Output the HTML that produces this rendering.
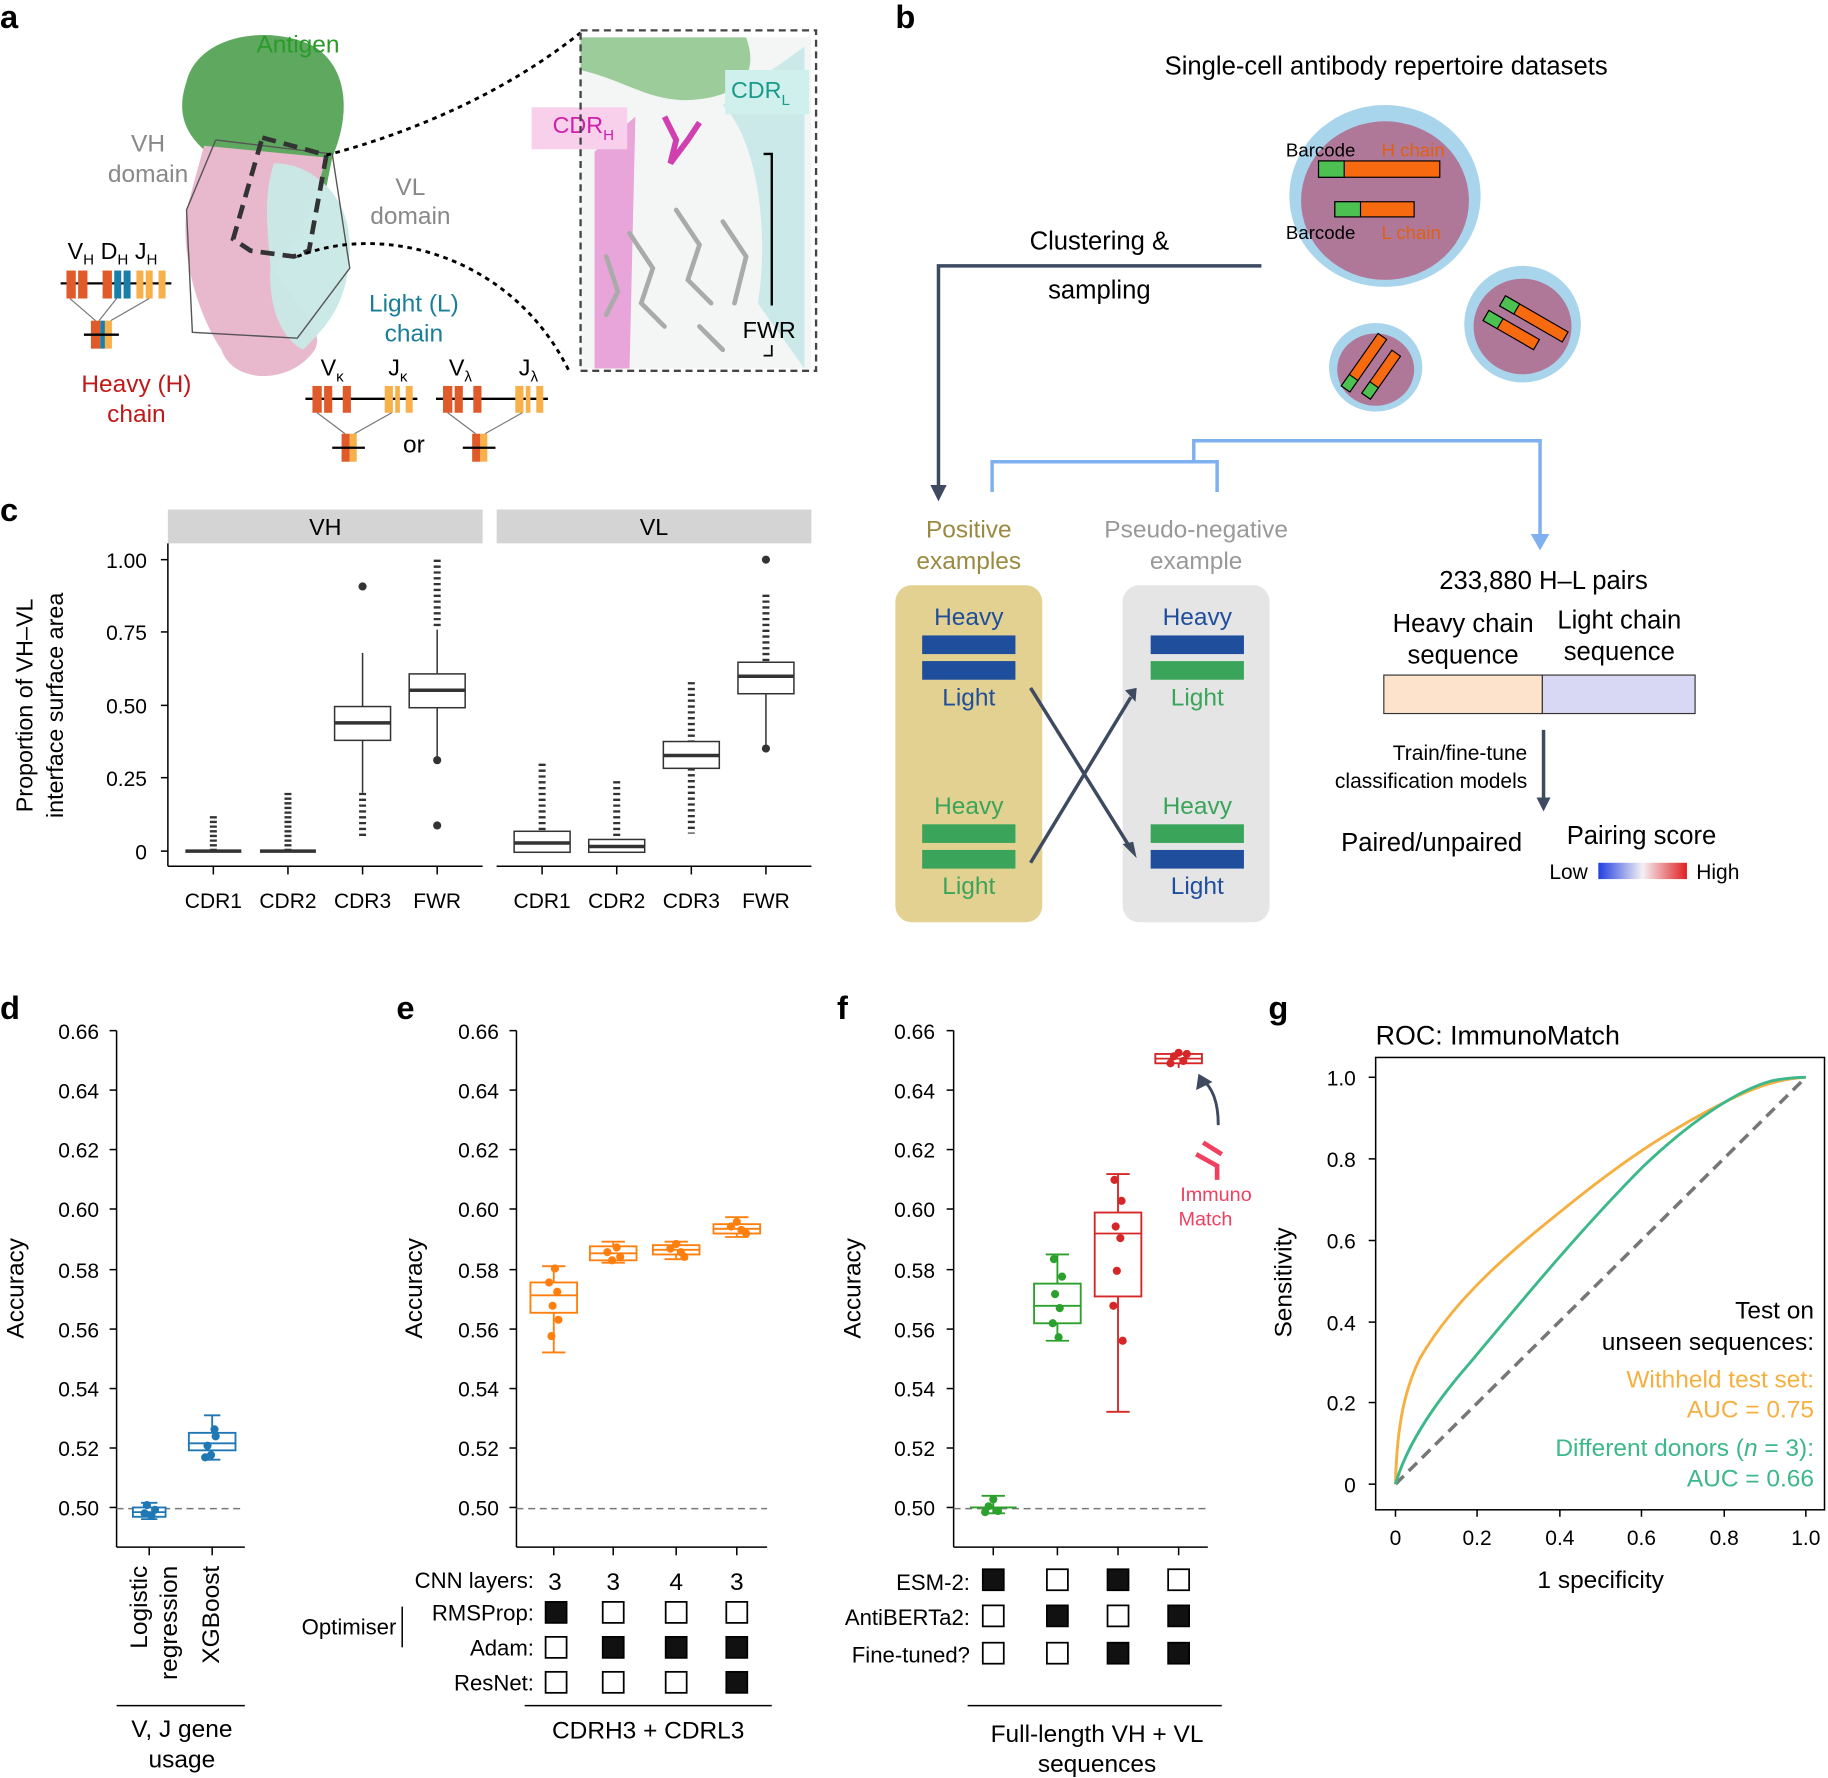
<!DOCTYPE html>
<html><head><meta charset="utf-8"><style>
html,body{margin:0;padding:0;background:#fff}
svg{display:block}
text{font-family:"Liberation Sans",sans-serif}
</style></head><body>
<svg width="1828" height="1778" viewBox="0 0 1568 1525" xmlns="http://www.w3.org/2000/svg">
<!-- panel letters -->
<g font-weight="bold" font-size="28" fill="#000">
<text x="0" y="24">a</text><text x="768" y="24">b</text><text x="0" y="447">c</text>
<text x="0" y="874">d</text><text x="340" y="874">e</text><text x="718" y="874">f</text><text x="1088" y="874">g</text>
</g>

<!-- ===== Panel a ===== -->
<g>
<path d="M160,70 C170,30 230,20 270,40 C300,60 300,100 285,135 L280,160 L190,140 C160,120 150,100 160,70Z" fill="#5fa85f"/>
<path d="M175,125 L280,135 C270,170 260,200 235,230 C250,260 280,280 270,300 C250,330 200,330 190,300 C170,270 155,220 160,180Z" fill="#e8b8cc"/>
<path d="M235,140 C270,140 300,170 300,210 C300,260 280,280 260,300 C240,290 230,260 232,230 C230,200 225,170 235,140Z" fill="#c8e8e6" opacity="0.95"/>
<polyline points="185,120 285,132 300,230 255,290 165,285 160,180 185,120" fill="none" stroke="#555" stroke-width="1.2"/>
<path d="M225,118 L280,133 L265,215 L252,220 L215,215 L200,205 Z" fill="none" stroke="#333" stroke-width="4" stroke-dasharray="12,7"/>
<path d="M280,133 C330,120 420,90 498,28" fill="none" stroke="#000" stroke-width="2.5" stroke-dasharray="4,4"/>
<path d="M255,220 C330,190 440,220 488,318" fill="none" stroke="#000" stroke-width="2.5" stroke-dasharray="4,4"/>
<text x="220" y="45" font-size="21" fill="#2a9a2a">Antigen</text>
<text x="127" y="130" font-size="21" fill="#888" text-anchor="middle">VH</text>
<text x="127" y="156" font-size="21" fill="#888" text-anchor="middle">domain</text>
<text x="352" y="167" font-size="21" fill="#888" text-anchor="middle">VL</text>
<text x="352" y="192" font-size="21" fill="#888" text-anchor="middle">domain</text>
<text x="355" y="267" font-size="21" fill="#1a7e9a" text-anchor="middle">Light (L)</text>
<text x="355" y="293" font-size="21" fill="#1a7e9a" text-anchor="middle">chain</text>
<text x="117" y="336" font-size="21" fill="#c01818" text-anchor="middle">Heavy (H)</text>
<text x="117" y="362" font-size="21" fill="#c01818" text-anchor="middle">chain</text>
<text x="58" y="222" font-size="20">V<tspan font-size="13" dy="5">H</tspan><tspan dy="-5"> D</tspan><tspan font-size="13" dy="5">H</tspan><tspan dy="-5"> J</tspan><tspan font-size="13" dy="5">H</tspan></text>
<line x1="52" y1="243" x2="147" y2="243" stroke="#000" stroke-width="2"/>
<g fill="#e05a2a"><rect x="57" y="232" width="8" height="24"/><rect x="67" y="232" width="8" height="24"/><rect x="88" y="232" width="8" height="24"/></g>
<g fill="#1a7eaa"><rect x="98" y="232" width="6" height="24"/><rect x="106" y="232" width="6" height="24"/></g>
<g fill="#f7b04a"><rect x="117" y="232" width="6" height="24"/><rect x="125" y="232" width="6" height="24"/><rect x="136" y="232" width="6" height="24"/></g>
<path d="M60,256 L82,275 M100,256 L85,275 M128,256 L95,275" stroke="#777"/>
<rect x="78" y="275" width="8" height="24" fill="#e05a2a"/><rect x="86" y="275" width="4" height="24" fill="#1a7eaa"/><rect x="90" y="275" width="6" height="24" fill="#f7b04a"/>
<line x1="72" y1="287" x2="102" y2="287" stroke="#000" stroke-width="2"/>
<text x="275" y="322" font-size="20">V<tspan font-size="13" dy="5">κ</tspan></text>
<text x="333" y="322" font-size="20">J<tspan font-size="13" dy="5">κ</tspan></text>
<text x="385" y="322" font-size="20">V<tspan font-size="13" dy="5">λ</tspan></text>
<text x="445" y="322" font-size="20">J<tspan font-size="13" dy="5">λ</tspan></text>
<g>
<line x1="262" y1="342" x2="358" y2="342" stroke="#000" stroke-width="2"/>
<rect x="268" y="331" width="8" height="23" fill="#e05a2a"/><rect x="278" y="331" width="7" height="23" fill="#e05a2a"/><rect x="294" y="331" width="7" height="23" fill="#e05a2a"/>
<rect x="330" y="331" width="7" height="23" fill="#f7b04a"/><rect x="339" y="331" width="4" height="23" fill="#f7b04a"/><rect x="348" y="331" width="6" height="23" fill="#f7b04a"/>
<path d="M272,354 L296,372 M336,354 L304,372" stroke="#777"/>
<rect x="293" y="372" width="7" height="24" fill="#e05a2a"/><rect x="300" y="372" width="6" height="24" fill="#f7b04a"/>
<line x1="285" y1="384" x2="313" y2="384" stroke="#000" stroke-width="2"/>
</g>
<g transform="translate(112,0)">
<line x1="262" y1="342" x2="358" y2="342" stroke="#000" stroke-width="2"/>
<rect x="268" y="331" width="8" height="23" fill="#e05a2a"/><rect x="278" y="331" width="7" height="23" fill="#e05a2a"/><rect x="294" y="331" width="7" height="23" fill="#e05a2a"/>
<rect x="330" y="331" width="7" height="23" fill="#f7b04a"/><rect x="339" y="331" width="4" height="23" fill="#f7b04a"/><rect x="348" y="331" width="6" height="23" fill="#f7b04a"/>
<path d="M272,354 L296,372 M336,354 L304,372" stroke="#777"/>
<rect x="293" y="372" width="7" height="24" fill="#e05a2a"/><rect x="300" y="372" width="6" height="24" fill="#f7b04a"/>
<line x1="285" y1="384" x2="313" y2="384" stroke="#000" stroke-width="2"/>
</g>
<text x="355" y="388" font-size="21" text-anchor="middle">or</text>
<!-- inset -->
<rect x="498" y="32" width="198" height="284" fill="#f3f6f5"/>
<path d="M498,32 L640,32 C650,60 640,80 600,85 C560,90 540,70 498,60Z" fill="#9ccc9a"/>
<path d="M510,130 L545,100 L540,316 L510,316Z" fill="#e070c8" opacity="0.6"/>
<path d="M620,90 C650,120 660,200 650,260 L690,316 L690,40 Z" fill="#b8e4e2" opacity="0.7"/>
<g stroke="#aaa" stroke-width="4" fill="none" stroke-linecap="round">
<path d="M540,200 L560,230 L550,260 L570,280 M580,180 L600,210 L590,240 L610,260 M620,190 L640,220 L630,260 M520,220 L530,250 L520,270 M600,280 L620,300"/>
</g>
<path d="M570,100 L580,120 L575,140 L590,120 L600,105" stroke="#d040b0" stroke-width="5" fill="none"/>
<rect x="456" y="92" width="82" height="36" fill="#f8d0ec"/>
<rect x="622" y="60" width="72" height="38" fill="#d0f0ee"/>
<text x="474" y="114" font-size="20" fill="#d020a8">CDR<tspan font-size="13" dy="6">H</tspan></text>
<text x="627" y="84" font-size="20" fill="#1a9a8a">CDR<tspan font-size="13" dy="6">L</tspan></text>
<path d="M655,132 L662,132 L662,262" stroke="#000" stroke-width="2" fill="none"/>
<text x="637" y="290" font-size="20">FWR</text>
<path d="M655,305 L662,305 L662,296" stroke="#000" stroke-width="1.5" fill="none"/>
<rect x="498" y="26" width="202" height="292" fill="none" stroke="#444" stroke-width="2" stroke-dasharray="6,4"/>
</g>

<!-- ===== Panel b ===== -->
<g>
<text x="1189" y="64" font-size="22" text-anchor="middle">Single-cell antibody repertoire datasets</text>
<ellipse cx="1188" cy="168" rx="82" ry="78" fill="#a8d4ec"/><ellipse cx="1188" cy="172" rx="72" ry="68" fill="#b07898"/>
<ellipse cx="1306" cy="278" rx="50" ry="50" fill="#a8d4ec"/><ellipse cx="1306" cy="280" rx="42" ry="41" fill="#b07898"/>
<ellipse cx="1180" cy="315" rx="40" ry="38" fill="#a8d4ec"/><ellipse cx="1180" cy="317" rx="33" ry="31" fill="#b07898"/>
<rect x="1131" y="138" width="104" height="14" fill="#f86a10" stroke="#000"/><rect x="1131" y="138" width="22" height="14" fill="#4cc050" stroke="#000"/>
<rect x="1145" y="173" width="68" height="13" fill="#f86a10" stroke="#000"/><rect x="1145" y="173" width="22" height="13" fill="#4cc050" stroke="#000"/>
<g transform="rotate(30 1305 280)"><rect x="1280" y="264" width="62" height="10" fill="#f86a10" stroke="#000"/><rect x="1280" y="264" width="14" height="10" fill="#4cc050" stroke="#000"/><rect x="1274" y="282" width="50" height="10" fill="#f86a10" stroke="#000"/><rect x="1274" y="282" width="14" height="10" fill="#4cc050" stroke="#000"/></g>
<g transform="rotate(-55 1180 315)"><rect x="1150" y="300" width="55" height="9" fill="#f86a10" stroke="#000"/><rect x="1150" y="300" width="12" height="9" fill="#4cc050" stroke="#000"/><rect x="1155" y="318" width="45" height="9" fill="#f86a10" stroke="#000"/><rect x="1155" y="318" width="12" height="9" fill="#4cc050" stroke="#000"/></g>
<text x="1103" y="134" font-size="16">Barcode</text><text x="1185" y="134" font-size="16" fill="#e06010">H chain</text>
<text x="1103" y="205" font-size="16">Barcode</text><text x="1185" y="205" font-size="16" fill="#e06010">L chain</text>
<text x="943" y="214" font-size="22" text-anchor="middle">Clustering &amp;</text>
<text x="943" y="256" font-size="22" text-anchor="middle">sampling</text>
<path d="M1082,228 L805,228 L805,420" stroke="#3d4a60" stroke-width="3" fill="none"/>
<path d="M798,416 L805,430 L812,416Z" fill="#3d4a60"/>
<path d="M851,422 L851,396 L1044,396 L1044,422 M1024,396 L1024,378 L1321,378 L1321,462" stroke="#7fb0f0" stroke-width="3" fill="none"/>
<path d="M1313,458 L1321,472 L1329,458Z" fill="#7fb0f0"/>
<text x="831" y="461" font-size="21" fill="#9a8a40" text-anchor="middle">Positive</text>
<text x="831" y="488" font-size="21" fill="#9a8a40" text-anchor="middle">examples</text>
<text x="1026" y="461" font-size="21" fill="#999" text-anchor="middle">Pseudo-negative</text>
<text x="1026" y="488" font-size="21" fill="#999" text-anchor="middle">example</text>
<rect x="768" y="502" width="126" height="289" rx="14" fill="#e3d192"/>
<rect x="963" y="502" width="126" height="289" rx="14" fill="#e5e5e5"/>
<g font-size="21" text-anchor="middle">
<text x="831" y="536" fill="#1f4e9c">Heavy</text><text x="831" y="605" fill="#1f4e9c">Light</text>
<text x="831" y="698" fill="#3aa55a">Heavy</text><text x="831" y="767" fill="#3aa55a">Light</text>
<text x="1027" y="536" fill="#1f4e9c">Heavy</text><text x="1027" y="605" fill="#3aa55a">Light</text>
<text x="1027" y="698" fill="#3aa55a">Heavy</text><text x="1027" y="767" fill="#1f4e9c">Light</text>
</g>
<rect x="791" y="545" width="80" height="16" fill="#1f4e9c"/><rect x="791" y="567" width="80" height="16" fill="#1f4e9c"/>
<rect x="791" y="707" width="80" height="16" fill="#3aa55a"/><rect x="791" y="729" width="80" height="16" fill="#3aa55a"/>
<rect x="987" y="545" width="80" height="16" fill="#1f4e9c"/><rect x="987" y="567" width="80" height="16" fill="#3aa55a"/>
<rect x="987" y="707" width="80" height="16" fill="#3aa55a"/><rect x="987" y="729" width="80" height="16" fill="#1f4e9c"/>
<path d="M884,590 L970,728 M884,740 L970,598" stroke="#3d4a60" stroke-width="3"/>
<path d="M965,592 L975,590 L974,602Z M963,724 L975,736 L972,722Z" fill="#3d4a60"/>
<text x="1324" y="505" font-size="22" text-anchor="middle">233,880 H–L pairs</text>
<text x="1255" y="542" font-size="22" text-anchor="middle">Heavy chain</text><text x="1255" y="569" font-size="22" text-anchor="middle">sequence</text>
<text x="1389" y="539" font-size="22" text-anchor="middle">Light chain</text><text x="1389" y="566" font-size="22" text-anchor="middle">sequence</text>
<rect x="1187" y="579" width="136" height="33" fill="#fde3cc" stroke="#333"/>
<rect x="1323" y="579" width="131" height="33" fill="#d8d8f4" stroke="#333"/>
<line x1="1324" y1="626" x2="1324" y2="688" stroke="#3d4a60" stroke-width="3"/>
<path d="M1318,684 L1324,696 L1330,684Z" fill="#3d4a60"/>
<text x="1310" y="652" font-size="18" text-anchor="end">Train/fine-tune</text>
<text x="1310" y="676" font-size="18" text-anchor="end">classification models</text>
<text x="1228" y="730" font-size="22" text-anchor="middle">Paired/unpaired</text>
<text x="1408" y="724" font-size="22" text-anchor="middle">Pairing score</text>
<defs><linearGradient id="gr" x1="0" x2="1"><stop offset="0" stop-color="#2040e0"/><stop offset="0.5" stop-color="#f4f0f4"/><stop offset="1" stop-color="#e02020"/></linearGradient></defs>
<rect x="1371" y="740" width="76" height="14" fill="url(#gr)"/>
<text x="1362" y="754" font-size="18" text-anchor="end">Low</text><text x="1455" y="754" font-size="18">High</text>
</g>

<!-- ===== Panel c ===== -->
<g font-size="18">
<rect x="144" y="437" width="270" height="29" fill="#d4d4d4"/><rect x="426" y="437" width="270" height="29" fill="#d4d4d4"/>
<text x="279" y="459" font-size="20" text-anchor="middle">VH</text><text x="561" y="459" font-size="20" text-anchor="middle">VL</text>
<g stroke="#000" stroke-width="1.3">
<line x1="144" y1="466" x2="144" y2="743"/><line x1="144" y1="743" x2="414" y2="743"/><line x1="426" y1="743" x2="696" y2="743"/>
<line x1="138" y1="480" x2="144" y2="480"/><line x1="138" y1="542" x2="144" y2="542"/><line x1="138" y1="605" x2="144" y2="605"/><line x1="138" y1="667" x2="144" y2="667"/><line x1="138" y1="730" x2="144" y2="730"/>
<line x1="183" y1="743" x2="183" y2="750"/><line x1="247" y1="743" x2="247" y2="750"/><line x1="311" y1="743" x2="311" y2="750"/><line x1="375" y1="743" x2="375" y2="750"/>
<line x1="465" y1="743" x2="465" y2="750"/><line x1="529" y1="743" x2="529" y2="750"/><line x1="593" y1="743" x2="593" y2="750"/><line x1="657" y1="743" x2="657" y2="750"/>
</g>
<g text-anchor="end"><text x="126" y="487">1.00</text><text x="126" y="549">0.75</text><text x="126" y="612">0.50</text><text x="126" y="674">0.25</text><text x="126" y="737">0</text></g>
<g text-anchor="middle"><text x="183" y="779">CDR1</text><text x="247" y="779">CDR2</text><text x="311" y="779">CDR3</text><text x="375" y="779">FWR</text>
<text x="465" y="779">CDR1</text><text x="529" y="779">CDR2</text><text x="593" y="779">CDR3</text><text x="657" y="779">FWR</text></g>
<text transform="translate(28,605) rotate(-90)" font-size="20" text-anchor="middle">Proportion of VH–VL</text>
<text transform="translate(54,605) rotate(-90)" font-size="20" text-anchor="middle">interface surface area</text>
<g stroke="#333" stroke-width="1.3" fill="#fff">
<line x1="183" y1="700" x2="183" y2="731" stroke-dasharray="2,2" stroke-width="6"/><line x1="159" y1="730" x2="207" y2="730" stroke-width="3"/>
<line x1="247" y1="680" x2="247" y2="731" stroke-dasharray="2,2" stroke-width="6"/><line x1="223" y1="730" x2="271" y2="730" stroke-width="3"/>
<line x1="311" y1="560" x2="311" y2="606"/><line x1="311" y1="635" x2="311" y2="680"/><rect x="287" y="606" width="48" height="29"/><line x1="287" y1="620" x2="335" y2="620" stroke-width="3"/>
<line x1="311" y1="680" x2="311" y2="718" stroke-dasharray="2,3" stroke-width="6"/>
<line x1="375" y1="480" x2="375" y2="540" stroke-dasharray="2,3" stroke-width="6"/><line x1="375" y1="540" x2="375" y2="578"/><line x1="375" y1="607" x2="375" y2="650"/><rect x="351" y="578" width="48" height="29"/><line x1="351" y1="592" x2="399" y2="592" stroke-width="3"/>
<line x1="465" y1="655" x2="465" y2="713" stroke-dasharray="2,3" stroke-width="6"/><rect x="441" y="713" width="48" height="18"/><line x1="441" y1="723" x2="489" y2="723" stroke-width="3"/>
<line x1="529" y1="670" x2="529" y2="720" stroke-dasharray="2,3" stroke-width="6"/><rect x="505" y="720" width="48" height="11"/><line x1="505" y1="726" x2="553" y2="726" stroke-width="3"/>
<line x1="593" y1="585" x2="593" y2="636" stroke-dasharray="2,3" stroke-width="6"/><rect x="569" y="636" width="48" height="23"/><line x1="569" y1="648" x2="617" y2="648" stroke-width="3"/><line x1="593" y1="659" x2="593" y2="715" stroke-dasharray="2,3" stroke-width="6"/>
<line x1="657" y1="510" x2="657" y2="568" stroke-dasharray="2,3" stroke-width="6"/><rect x="633" y="568" width="48" height="27"/><line x1="633" y1="580" x2="681" y2="580" stroke-width="3"/><line x1="657" y1="595" x2="657" y2="645"/>
</g>
<g fill="#333"><circle cx="311" cy="503" r="3.5"/><circle cx="375" cy="652" r="3.5"/><circle cx="375" cy="708" r="3.5"/><circle cx="657" cy="480" r="3.5"/><circle cx="657" cy="642" r="3.5"/></g>
</g>

<!-- ===== Panels d/e/f axes ===== -->
<g font-size="18" stroke-width="1.3">
<!-- d -->
<g stroke="#000"><line x1="100" y1="884" x2="100" y2="1327"/><line x1="100" y1="1327" x2="210" y2="1327"/><line x1="128" y1="1327" x2="128" y2="1334"/><line x1="182" y1="1327" x2="182" y2="1334"/>
<line x1="94" y1="884" x2="100" y2="884"/><line x1="94" y1="935" x2="100" y2="935"/><line x1="94" y1="986" x2="100" y2="986"/><line x1="94" y1="1037" x2="100" y2="1037"/><line x1="94" y1="1089" x2="100" y2="1089"/><line x1="94" y1="1140" x2="100" y2="1140"/><line x1="94" y1="1191" x2="100" y2="1191"/><line x1="94" y1="1242" x2="100" y2="1242"/><line x1="94" y1="1293" x2="100" y2="1293"/></g>
<g text-anchor="end"><text x="85" y="891">0.66</text><text x="85" y="942">0.64</text><text x="85" y="993">0.62</text><text x="85" y="1044">0.60</text><text x="85" y="1096">0.58</text><text x="85" y="1147">0.56</text><text x="85" y="1198">0.54</text><text x="85" y="1249">0.52</text><text x="85" y="1300">0.50</text></g>
<text transform="translate(20,1105) rotate(-90)" font-size="21" text-anchor="middle">Accuracy</text>
<line x1="100" y1="1294" x2="210" y2="1294" stroke="#777" stroke-dasharray="6,4"/>
<text transform="translate(126,1343) rotate(-90)" font-size="21" text-anchor="end">Logistic</text>
<text transform="translate(152,1343) rotate(-90)" font-size="21" text-anchor="end">regression</text>
<text transform="translate(188,1343) rotate(-90)" font-size="21" text-anchor="end">XGBoost</text>
<line x1="100" y1="1463" x2="210" y2="1463" stroke="#000"/>
<text x="156" y="1490" font-size="21" text-anchor="middle">V, J gene</text><text x="156" y="1516" font-size="21" text-anchor="middle">usage</text>
<g stroke="#1f77b4" fill="none" stroke-width="1.6">
<line x1="128" y1="1289" x2="128" y2="1303"/><rect x="114" y="1293" width="28" height="8" fill="#fff"/><line x1="114" y1="1297" x2="142" y2="1297"/><line x1="121" y1="1289" x2="135" y2="1289"/><line x1="121" y1="1303" x2="135" y2="1303"/>
<line x1="182" y1="1214" x2="182" y2="1252"/><rect x="162" y="1229" width="40" height="15" fill="#fff"/><line x1="162" y1="1238" x2="202" y2="1238"/><line x1="175" y1="1214" x2="189" y2="1214"/><line x1="175" y1="1252" x2="189" y2="1252"/>
</g>
<g fill="#1f77b4"><circle cx="124" cy="1298" r="3.5"/><circle cx="130" cy="1300" r="3.5"/><circle cx="133" cy="1295" r="3.5"/><circle cx="126" cy="1291" r="3.5"/><circle cx="178" cy="1240" r="3.5"/><circle cx="185" cy="1232" r="3.5"/><circle cx="181" cy="1248" r="3.5"/><circle cx="176" cy="1250" r="3.5"/><circle cx="184" cy="1226" r="3.5"/></g>

<!-- e -->
<g stroke="#000"><line x1="443" y1="884" x2="443" y2="1327"/><line x1="443" y1="1327" x2="658" y2="1327"/>
<line x1="475" y1="1327" x2="475" y2="1334"/><line x1="526" y1="1327" x2="526" y2="1334"/><line x1="580" y1="1327" x2="580" y2="1334"/><line x1="632" y1="1327" x2="632" y2="1334"/>
<line x1="437" y1="884" x2="443" y2="884"/><line x1="437" y1="935" x2="443" y2="935"/><line x1="437" y1="986" x2="443" y2="986"/><line x1="437" y1="1037" x2="443" y2="1037"/><line x1="437" y1="1089" x2="443" y2="1089"/><line x1="437" y1="1140" x2="443" y2="1140"/><line x1="437" y1="1191" x2="443" y2="1191"/><line x1="437" y1="1242" x2="443" y2="1242"/><line x1="437" y1="1293" x2="443" y2="1293"/></g>
<g text-anchor="end"><text x="428" y="891">0.66</text><text x="428" y="942">0.64</text><text x="428" y="993">0.62</text><text x="428" y="1044">0.60</text><text x="428" y="1096">0.58</text><text x="428" y="1147">0.56</text><text x="428" y="1198">0.54</text><text x="428" y="1249">0.52</text><text x="428" y="1300">0.50</text></g>
<text transform="translate(362,1105) rotate(-90)" font-size="21" text-anchor="middle">Accuracy</text>
<line x1="443" y1="1294" x2="658" y2="1294" stroke="#777" stroke-dasharray="6,4"/>
<g stroke="#ff7f0e" fill="none" stroke-width="1.6">
<line x1="475" y1="1086" x2="475" y2="1160"/><rect x="455" y="1100" width="40" height="26" fill="#fff"/><line x1="455" y1="1111" x2="495" y2="1111"/><line x1="465" y1="1086" x2="485" y2="1086"/><line x1="465" y1="1160" x2="485" y2="1160"/>
<line x1="526" y1="1065" x2="526" y2="1083"/><rect x="506" y="1069" width="40" height="12" fill="#fff"/><line x1="506" y1="1075" x2="546" y2="1075"/><line x1="516" y1="1065" x2="536" y2="1065"/><line x1="516" y1="1083" x2="536" y2="1083"/>
<line x1="580" y1="1065" x2="580" y2="1080"/><rect x="560" y="1068" width="40" height="8" fill="#fff"/><line x1="560" y1="1072" x2="600" y2="1072"/><line x1="570" y1="1065" x2="590" y2="1065"/><line x1="570" y1="1080" x2="590" y2="1080"/>
<line x1="632" y1="1044" x2="632" y2="1061"/><rect x="612" y="1050" width="40" height="8" fill="#fff"/><line x1="612" y1="1054" x2="652" y2="1054"/><line x1="622" y1="1044" x2="642" y2="1044"/><line x1="622" y1="1061" x2="642" y2="1061"/>
</g>
<g fill="#ff7f0e"><circle cx="471" cy="1100" r="3.5"/><circle cx="478" cy="1108" r="3.5"/><circle cx="474" cy="1120" r="3.5"/><circle cx="479" cy="1132" r="3.5"/><circle cx="473" cy="1146" r="3.5"/><circle cx="476" cy="1088" r="3.5"/>
<circle cx="521" cy="1074" r="3.5"/><circle cx="529" cy="1070" r="3.5"/><circle cx="532" cy="1078" r="3.5"/><circle cx="525" cy="1081" r="3.5"/>
<circle cx="575" cy="1071" r="3.5"/><circle cx="584" cy="1074" r="3.5"/><circle cx="580" cy="1067" r="3.5"/><circle cx="587" cy="1078" r="3.5"/>
<circle cx="627" cy="1052" r="3.5"/><circle cx="636" cy="1055" r="3.5"/><circle cx="632" cy="1048" r="3.5"/><circle cx="640" cy="1058" r="3.5"/></g>
<g font-size="19" text-anchor="end"><text x="458" y="1362">CNN layers:</text><text x="458" y="1390">RMSProp:</text><text x="458" y="1420">Adam:</text><text x="458" y="1450">ResNet:</text></g>
<g font-size="21" text-anchor="middle"><text x="476" y="1364">3</text><text x="526" y="1364">3</text><text x="580" y="1364">4</text><text x="632" y="1364">3</text></g>
<text x="340" y="1402" font-size="19" text-anchor="end">Optimiser</text>
<line x1="345" y1="1378" x2="345" y2="1413" stroke="#000"/>
<g stroke="#000" stroke-width="1.5" fill="#fff">
<rect x="468" y="1374" width="18" height="18" fill="#111"/><rect x="517" y="1374" width="18" height="18"/><rect x="571" y="1374" width="18" height="18"/><rect x="623" y="1374" width="18" height="18"/>
<rect x="468" y="1404" width="18" height="18"/><rect x="517" y="1404" width="18" height="18" fill="#111"/><rect x="571" y="1404" width="18" height="18" fill="#111"/><rect x="623" y="1404" width="18" height="18" fill="#111"/>
<rect x="468" y="1434" width="18" height="18"/><rect x="517" y="1434" width="18" height="18"/><rect x="571" y="1434" width="18" height="18"/><rect x="623" y="1434" width="18" height="18" fill="#111"/>
</g>
<line x1="450" y1="1463" x2="662" y2="1463" stroke="#000"/>
<text x="556" y="1491" font-size="21" text-anchor="middle">CDRH3 + CDRL3</text>

<!-- f -->
<g stroke="#000"><line x1="818" y1="884" x2="818" y2="1327"/><line x1="818" y1="1327" x2="1036" y2="1327"/>
<line x1="852" y1="1327" x2="852" y2="1334"/><line x1="907" y1="1327" x2="907" y2="1334"/><line x1="959" y1="1327" x2="959" y2="1334"/><line x1="1011" y1="1327" x2="1011" y2="1334"/>
<line x1="812" y1="884" x2="818" y2="884"/><line x1="812" y1="935" x2="818" y2="935"/><line x1="812" y1="986" x2="818" y2="986"/><line x1="812" y1="1037" x2="818" y2="1037"/><line x1="812" y1="1089" x2="818" y2="1089"/><line x1="812" y1="1140" x2="818" y2="1140"/><line x1="812" y1="1191" x2="818" y2="1191"/><line x1="812" y1="1242" x2="818" y2="1242"/><line x1="812" y1="1293" x2="818" y2="1293"/></g>
<g text-anchor="end"><text x="802" y="891">0.66</text><text x="802" y="942">0.64</text><text x="802" y="993">0.62</text><text x="802" y="1044">0.60</text><text x="802" y="1096">0.58</text><text x="802" y="1147">0.56</text><text x="802" y="1198">0.54</text><text x="802" y="1249">0.52</text><text x="802" y="1300">0.50</text></g>
<text transform="translate(738,1105) rotate(-90)" font-size="21" text-anchor="middle">Accuracy</text>
<line x1="818" y1="1294" x2="1036" y2="1294" stroke="#777" stroke-dasharray="6,4"/>
<g stroke="#2ca02c" fill="none" stroke-width="1.6">
<line x1="852" y1="1283" x2="852" y2="1298"/><line x1="832" y1="1293" x2="872" y2="1293"/><line x1="842" y1="1283" x2="862" y2="1283"/><line x1="842" y1="1298" x2="862" y2="1298"/>
<line x1="907" y1="1076" x2="907" y2="1150"/><rect x="887" y="1101" width="40" height="34" fill="#fff"/><line x1="887" y1="1120" x2="927" y2="1120"/><line x1="897" y1="1076" x2="917" y2="1076"/><line x1="897" y1="1150" x2="917" y2="1150"/>
</g>
<g fill="#2ca02c"><circle cx="848" cy="1292" r="3.5"/><circle cx="856" cy="1296" r="3.5"/><circle cx="852" cy="1286" r="3.5"/><circle cx="845" cy="1297" r="3.5"/>
<circle cx="904" cy="1080" r="3.5"/><circle cx="911" cy="1095" r="3.5"/><circle cx="905" cy="1110" r="3.5"/><circle cx="909" cy="1122" r="3.5"/><circle cx="903" cy="1135" r="3.5"/><circle cx="908" cy="1147" r="3.5"/></g>
<g stroke="#d62728" fill="none" stroke-width="1.6">
<line x1="959" y1="1007" x2="959" y2="1211"/><rect x="939" y="1040" width="40" height="72" fill="#fff"/><line x1="939" y1="1058" x2="979" y2="1058"/><line x1="949" y1="1007" x2="969" y2="1007"/><line x1="949" y1="1211" x2="969" y2="1211"/>
<line x1="1011" y1="900" x2="1011" y2="916"/><rect x="991" y="904" width="40" height="8" fill="#fff"/><line x1="991" y1="908" x2="1031" y2="908"/>
</g>
<g fill="#d62728"><circle cx="956" cy="1012" r="3.5"/><circle cx="962" cy="1030" r="3.5"/><circle cx="957" cy="1052" r="3.5"/><circle cx="961" cy="1062" r="3.5"/><circle cx="958" cy="1090" r="3.5"/><circle cx="963" cy="1150" r="3.5"/><circle cx="955" cy="1120" r="3.5"/>
<circle cx="1007" cy="906" r="3.5"/><circle cx="1015" cy="910" r="3.5"/><circle cx="1011" cy="903" r="3.5"/><circle cx="1018" cy="904" r="3.5"/><circle cx="1004" cy="912" r="3.5"/></g>
<path d="M1045,965 C1045,945 1040,932 1030,925" stroke="#3d4a60" stroke-width="2.5" fill="none"/>
<path d="M1026,935 L1028,921 L1040,928Z" fill="#3d4a60"/>
<path d="M1026,990 L1044,1000 L1044,1012 M1032,980 L1048,990" stroke="#f04060" stroke-width="4" fill="none"/>
<text x="1043" y="1030" font-size="17" fill="#f04060" text-anchor="middle">Immuno</text>
<text x="1034" y="1051" font-size="17" fill="#f04060" text-anchor="middle">Match</text>
<g font-size="19" text-anchor="end"><text x="832" y="1364">ESM-2:</text><text x="832" y="1394">AntiBERTa2:</text><text x="832" y="1426">Fine-tuned?</text></g>
<g stroke="#000" stroke-width="1.5" fill="#fff">
<rect x="843" y="1346" width="18" height="18" fill="#111"/><rect x="898" y="1346" width="18" height="18"/><rect x="950" y="1346" width="18" height="18" fill="#111"/><rect x="1002" y="1346" width="18" height="18"/>
<rect x="843" y="1377" width="18" height="18"/><rect x="898" y="1377" width="18" height="18" fill="#111"/><rect x="950" y="1377" width="18" height="18"/><rect x="1002" y="1377" width="18" height="18" fill="#111"/>
<rect x="843" y="1409" width="18" height="18"/><rect x="898" y="1409" width="18" height="18"/><rect x="950" y="1409" width="18" height="18" fill="#111"/><rect x="1002" y="1409" width="18" height="18" fill="#111"/>
</g>
<line x1="830" y1="1463" x2="1048" y2="1463" stroke="#000"/>
<text x="941" y="1494" font-size="21" text-anchor="middle">Full-length VH + VL</text>
<text x="941" y="1520" font-size="21" text-anchor="middle">sequences</text>
</g>

<!-- ===== Panel g ===== -->
<g font-size="18">
<text x="1180" y="896" font-size="23">ROC: ImmunoMatch</text>
<rect x="1180" y="907" width="385" height="388" fill="none" stroke="#000" stroke-width="1.3"/>
<g stroke="#000" stroke-width="1.3">
<line x1="1174" y1="924" x2="1180" y2="924"/><line x1="1174" y1="994" x2="1180" y2="994"/><line x1="1174" y1="1064" x2="1180" y2="1064"/><line x1="1174" y1="1134" x2="1180" y2="1134"/><line x1="1174" y1="1203" x2="1180" y2="1203"/><line x1="1174" y1="1273" x2="1180" y2="1273"/>
<line x1="1197" y1="1295" x2="1197" y2="1301"/><line x1="1267" y1="1295" x2="1267" y2="1301"/><line x1="1338" y1="1295" x2="1338" y2="1301"/><line x1="1408" y1="1295" x2="1408" y2="1301"/><line x1="1479" y1="1295" x2="1479" y2="1301"/><line x1="1549" y1="1295" x2="1549" y2="1301"/>
</g>
<g text-anchor="end"><text x="1163" y="931">1.0</text><text x="1163" y="1001">0.8</text><text x="1163" y="1071">0.6</text><text x="1163" y="1141">0.4</text><text x="1163" y="1210">0.2</text><text x="1163" y="1280">0</text></g>
<g text-anchor="middle"><text x="1197" y="1325">0</text><text x="1267" y="1325">0.2</text><text x="1338" y="1325">0.4</text><text x="1408" y="1325">0.6</text><text x="1479" y="1325">0.8</text><text x="1549" y="1325">1.0</text></g>
<text x="1373" y="1362" font-size="21" text-anchor="middle">1 specificity</text>
<text transform="translate(1108,1100) rotate(-90)" font-size="21" text-anchor="middle">Sensitivity</text>
<line x1="1197" y1="1273" x2="1549" y2="924" stroke="#777" stroke-width="3" stroke-dasharray="10,6"/>
<path d="M1197,1273 C1198,1230 1203,1195 1218,1165 C1250,1110 1300,1070 1350,1030 C1400,990 1440,965 1480,945 C1510,930 1530,925 1549,924" stroke="#f5b041" stroke-width="2.5" fill="none"/>
<path d="M1197,1273 C1205,1245 1225,1210 1260,1170 C1310,1110 1360,1050 1410,1000 C1450,962 1490,935 1520,927 C1535,924 1545,924 1549,924" stroke="#3cb88a" stroke-width="2.5" fill="none"/>
<g font-size="21" text-anchor="end">
<text x="1556" y="1131">Test on</text><text x="1556" y="1158">unseen sequences:</text>
<text x="1556" y="1190" fill="#f5b041">Withheld test set:</text><text x="1556" y="1216" fill="#f5b041">AUC = 0.75</text>
<text x="1556" y="1249" fill="#3cb88a">Different donors (<tspan font-style="italic">n</tspan> = 3):</text><text x="1556" y="1275" fill="#3cb88a">AUC = 0.66</text>
</g>
</g>
</svg>
</body></html>
